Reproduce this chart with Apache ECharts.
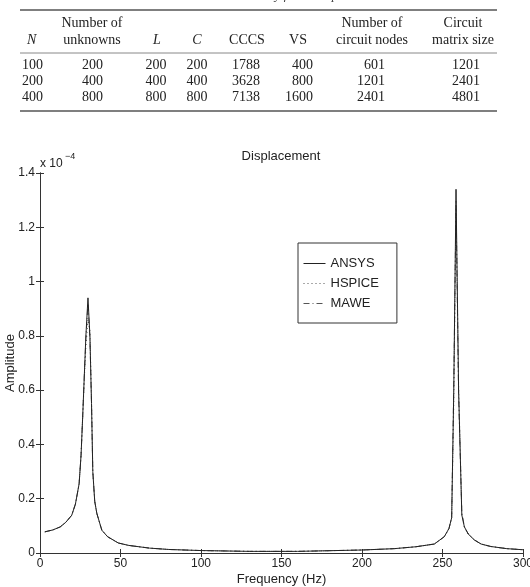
<!DOCTYPE html>
<html>
<head>
<meta charset="utf-8">
<script src="https://cdn.jsdelivr.net/npm/echarts@6/dist/echarts.min.js"></script>
<style>
  html, body { margin: 0; padding: 0; background: #fff; }
  #chart { width: 530px; height: 587px; }
</style>
</head>
<body>
<div id="chart"></div>
<script>
// 表格数据
const tableCaption = 'Table II. Circuit summary for Example II';
const headTop = ['', 'Number of', '', '', '', '', 'Number of', 'Circuit'];
const headBottom = ['N', 'unknowns', 'L', 'C', 'CCCS', 'VS', 'circuit nodes', 'matrix size'];
const nValues = [100, 200, 400];
const unknowns = [200, 400, 800];
const lValues = [200, 400, 800];
const cValues = [200, 400, 800];
const cccs = [1788, 3628, 7138];
const vsValues = [400, 800, 1600];
const circuitNodes = [601, 1201, 2401];
const matrixSize = [1201, 2401, 4801];

// 曲线数据 (振幅单位 x 10^-4)
const freq = [3, 8, 12.5, 16, 19.7, 22, 24.3, 25.5, 26.5, 27.5, 28.5, 29.8, 31, 32, 32.8, 34, 35.3, 38.4, 42, 48.6,
  55, 68, 80, 100, 130, 160, 200, 220, 233.5, 244.9, 251.1, 254, 255.7, 257, 258.4, 260, 262, 263.6, 266, 269.8,
  274, 280, 290, 300];
const ansys = [0.078, 0.085, 0.096, 0.113, 0.139, 0.18, 0.255, 0.36, 0.5, 0.65, 0.8, 0.94, 0.8, 0.55, 0.3, 0.19, 0.146, 0.084, 0.06, 0.037,
  0.028, 0.018, 0.013, 0.009, 0.006, 0.006, 0.011, 0.016, 0.023, 0.033, 0.06, 0.09, 0.13, 0.6, 1.34, 0.6, 0.14, 0.096, 0.07, 0.048,
  0.033, 0.024, 0.016, 0.012];
const hspice = [0.078, 0.085, 0.096, 0.113, 0.139, 0.18, 0.255, 0.36, 0.5, 0.64, 0.76, 0.86, 0.82, 0.56, 0.3, 0.19, 0.146, 0.084, 0.06, 0.037,
  0.028, 0.018, 0.013, 0.009, 0.006, 0.006, 0.011, 0.016, 0.023, 0.033, 0.06, 0.09, 0.13, 0.55, 1.3, 0.62, 0.14, 0.096, 0.07, 0.048,
  0.033, 0.024, 0.016, 0.012];
const mawe = [0.078, 0.085, 0.096, 0.113, 0.139, 0.18, 0.255, 0.36, 0.5, 0.65, 0.79, 0.92, 0.79, 0.55, 0.3, 0.19, 0.146, 0.084, 0.06, 0.037,
  0.028, 0.018, 0.013, 0.009, 0.006, 0.006, 0.011, 0.016, 0.023, 0.033, 0.06, 0.09, 0.13, 0.62, 1.28, 0.58, 0.15, 0.096, 0.07, 0.048,
  0.033, 0.024, 0.016, 0.012];
const seriesNames = ['ANSYS', 'HSPICE', 'MAWE'];

const chart = echarts.init(document.getElementById('chart'));

// 表格用 graphic 画
const serif = '14px "Liberation Serif", "Times New Roman", serif';
const serifItalic = 'italic 14px "Liberation Serif", "Times New Roman", serif';
const headX = [27, 92, 157, 197, 247, 298, 372, 463];
const headAlign = ['left', 'center', 'center', 'center', 'center', 'center', 'center', 'center'];
const italicCols = [0, 2, 3];
const dataCols = [nValues, unknowns, lValues, cValues, cccs, vsValues, circuitNodes, matrixSize];
const dataX = [22, 92.5, 156, 197, 246, 313, 385, 466];
const dataAlign = ['left', 'center', 'center', 'center', 'center', 'right', 'right', 'center'];
const rowY = [65, 81, 97];

function txt(text, x, y, align, font) {
  return {
    type: 'text', x: x, y: y, silent: true,
    style: { text: text, font: font, textAlign: align, textVerticalAlign: 'middle', fill: '#222' }
  };
}
function hline(y, w, color) {
  return {
    type: 'line', silent: true,
    shape: { x1: 20, y1: y, x2: 497, y2: y },
    style: { stroke: color, lineWidth: w }
  };
}

const graphics = [];
graphics.push({
  type: 'text', x: 253, y: 2, silent: true,
  style: { text: tableCaption, font: 'italic 13px "Liberation Serif", serif', textAlign: 'center', textVerticalAlign: 'bottom', fill: '#444' }
});
graphics.push(hline(10, 1.5, '#555'));
graphics.push(hline(53, 1, '#888'));
graphics.push(hline(111, 1.5, '#555'));
headTop.forEach(function(t, i) {
  if (t) graphics.push(txt(t, headX[i], 23, headAlign[i], serif));
});
headBottom.forEach(function(t, i) {
  graphics.push(txt(t, headX[i], 40, headAlign[i], italicCols.indexOf(i) >= 0 ? serifItalic : serif));
});
dataCols.forEach(function(col, c) {
  col.forEach(function(v, r) {
    graphics.push(txt(String(v), dataX[c], rowY[r], dataAlign[c], serif));
  });
});
// 指数标记 x 10^-4
graphics.push(txt('x 10', 40, 164, 'left', '12px "Liberation Sans", Arial, sans-serif'));
graphics.push(txt('\u22124', 65, 157, 'left', '9px "Liberation Sans", Arial, sans-serif'));

const sansFont = '"Liberation Sans", Arial, sans-serif';
const lineTypes = ['solid', [1, 3], [6, 3, 1, 3]];
const seriesData = [ansys, hspice, mawe];

const option = {
  animation: false,
  backgroundColor: '#fff',
  title: {
    text: 'Displacement',
    left: 281,
    top: 150,
    textAlign: 'center',
    padding: 0,
    textStyle: { fontFamily: sansFont, fontSize: 13, fontWeight: 'normal', color: '#222' }
  },
  grid: { left: 40, right: 7, top: 173, bottom: 34, outerBoundsMode: 'none', containLabel: false },
  legend: {
    data: seriesNames,
    orient: 'vertical',
    left: 298,
    top: 243,
    padding: [14, 18, 13, 5],
    itemWidth: 22,
    itemHeight: 13,
    itemGap: 7,
    backgroundColor: '#fff',
    borderColor: '#333',
    borderWidth: 1,
    borderRadius: 0,
    itemStyle: { opacity: 0 },
    lineStyle: { width: 1 },
    textStyle: { fontFamily: sansFont, fontSize: 13, color: '#222' }
  },
  xAxis: [{
    type: 'value', min: 0, max: 300, interval: 50,
    name: 'Frequency (Hz)', nameLocation: 'middle', nameGap: 20, nameMoveOverlap: false,
    nameTextStyle: { fontFamily: sansFont, fontSize: 13, color: '#222' },
    axisLine: { lineStyle: { color: '#333', width: 1 } },
    axisTick: { inside: true, length: 4, lineStyle: { color: '#333' } },
    axisLabel: { fontFamily: sansFont, fontSize: 12, color: '#222', margin: 5 },
    splitLine: { show: false }
  }, {
    type: 'value', min: 0, max: 300, interval: 50, position: 'top',
    axisLine: { lineStyle: { color: '#333', width: 1 } },
    axisTick: { inside: true, length: 4, lineStyle: { color: '#333' } },
    axisLabel: { show: false },
    splitLine: { show: false }
  }],
  yAxis: [{
    type: 'value', min: 0, max: 1.4, interval: 0.2,
    name: 'Amplitude', nameLocation: 'middle', nameGap: 23, nameRotate: 90, nameMoveOverlap: false,
    nameTextStyle: { fontFamily: sansFont, fontSize: 13, color: '#222' },
    axisLine: { show: true, lineStyle: { color: '#333', width: 1 } },
    axisTick: { show: true, inside: true, length: 4, lineStyle: { color: '#333' } },
    axisLabel: { fontFamily: sansFont, fontSize: 12, color: '#222', margin: 5 },
    splitLine: { show: false }
  }, {
    type: 'value', min: 0, max: 1.4, interval: 0.2, position: 'right',
    axisLine: { show: true, lineStyle: { color: '#333', width: 1 } },
    axisTick: { show: true, inside: true, length: 4, lineStyle: { color: '#333' } },
    axisLabel: { show: false },
    splitLine: { show: false }
  }],
  series: seriesNames.map(function(name, i) {
    return {
      name: name,
      type: 'line',
      xAxisIndex: 0,
      yAxisIndex: 0,
      data: freq.map(function(f, k) { return [f, seriesData[i][k]]; }),
      showSymbol: false,
      symbol: 'none',
      color: '#222',
      lineStyle: { color: i === 0 ? '#222' : '#555', width: 1, type: lineTypes[i] },
      z: 3 - i
    };
  }),
  graphic: graphics
};
chart.setOption(option);
</script>
</body>
</html>
